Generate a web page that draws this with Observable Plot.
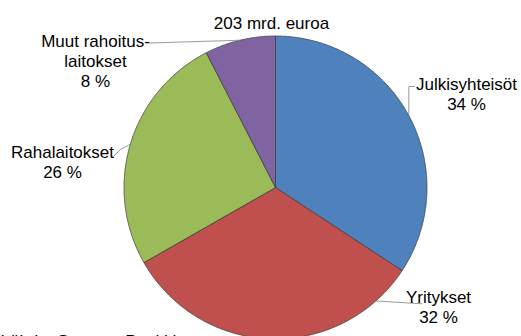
<!DOCTYPE html>
<html><head><meta charset="utf-8">
<script src="https://cdn.jsdelivr.net/npm/d3@7"></script>
<script src="https://cdn.jsdelivr.net/npm/@observablehq/plot@0.6"></script>
<style>body{margin:0;background:#fff}</style>
</head><body><div id="chart"></div>
<script>
// ---- data ----
const categories = ["Julkisyhteisöt", "Yritykset", "Rahalaitokset", "Muut rahoituslaitokset"];
const displayNames = ["Julkisyhteisöt", "Yritykset", "Rahalaitokset", "Muut rahoitus-\nlaitokset"];
const shares = [34.25, 32.5, 25.7, 7.55];
const shareLabels = ["34 %", "32 %", "26 %", "8 %"];
const colors = ["#4F81BD", "#C0504D", "#9BBB59", "#8064A2"];
const title = "203 mrd. euroa";
const source = "Lähde: Suomen Pankki";

// ---- layout (pixels) ----
const W = 521, H = 336, cx = 275, cy = 187, R = 151.5;
const labelLayout = [
  {x: 466, y: 93, edgeAngle: null, path: [[408.3, 86], [414, 86]]},
  {x: 438, y: 306, edgeAngle: 138.5, path: [[421.7, 303.3]]},
  {x: 62, y: 161.5, edgeAngle: null, path: [[120, 149], [113.5, 155.5]]},
  {x: 95, y: 60, edgeAngle: null, path: [[149, 42.5]]}
];
const ux = px => (px - cx) / R;
const uy = py => (cy - py) / R;

// ---- geometry from values ----
const arcs = d3.pie().sort(null).value(d => d)(shares);
const slicePts = [];
arcs.forEach((p, i) => {
  const n = Math.max(2, Math.ceil((p.endAngle - p.startAngle) / (Math.PI / 360)));
  slicePts.push({name: categories[i], x: 0, y: 0});
  for (let k = 0; k <= n; k++) {
    const a = p.startAngle + (p.endAngle - p.startAngle) * k / n;
    slicePts.push({name: categories[i], x: Math.sin(a), y: Math.cos(a)});
  }
  slicePts.push({name: categories[i], x: 0, y: 0});
});

const leaderPts = [];
const labelRows = [];
arcs.forEach((p, i) => {
  const L = labelLayout[i];
  const a = L.edgeAngle == null ? (p.startAngle + p.endAngle) / 2 : L.edgeAngle * Math.PI / 180;
  leaderPts.push({id: i, x: Math.sin(a), y: Math.cos(a)});
  L.path.forEach(([px, py]) => leaderPts.push({id: i, x: ux(px), y: uy(py)}));
  labelRows.push({x: ux(L.x), y: uy(L.y), text: displayNames[i] + "\n" + shareLabels[i]});
});

const chart = Plot.plot({
  width: W, height: H,
  margin: 0,
  style: {fontFamily: "'Liberation Sans', Arial, sans-serif", background: "#fff"},
  x: {domain: [-1, 1], range: [cx - R, cx + R], axis: null},
  y: {domain: [-1, 1], range: [cy + R, cy - R], axis: null},
  color: {domain: categories, range: colors},
  marks: [
    Plot.line(slicePts, {x: "x", y: "y", z: "name", fill: "name", stroke: "#3a3a3a", strokeWidth: 0.7, strokeLinejoin: "round"}),
    Plot.line(leaderPts, {x: "x", y: "y", z: "id", stroke: "#808080", strokeWidth: 0.8}),
    Plot.text(labelRows, {x: "x", y: "y", text: "text", fontSize: 17, lineHeight: 1.17, fill: "#000", lineAnchor: "middle"}),
    Plot.text([title], {x: ux(271), y: uy(23.2), text: d => d, fontSize: 17, fill: "#000"}),
    Plot.text([source], {x: ux(0), y: uy(341), text: d => d, fontSize: 17, fill: "#000", textAnchor: "start"})
  ]
});
document.getElementById("chart").append(chart);
</script>
</body></html>
